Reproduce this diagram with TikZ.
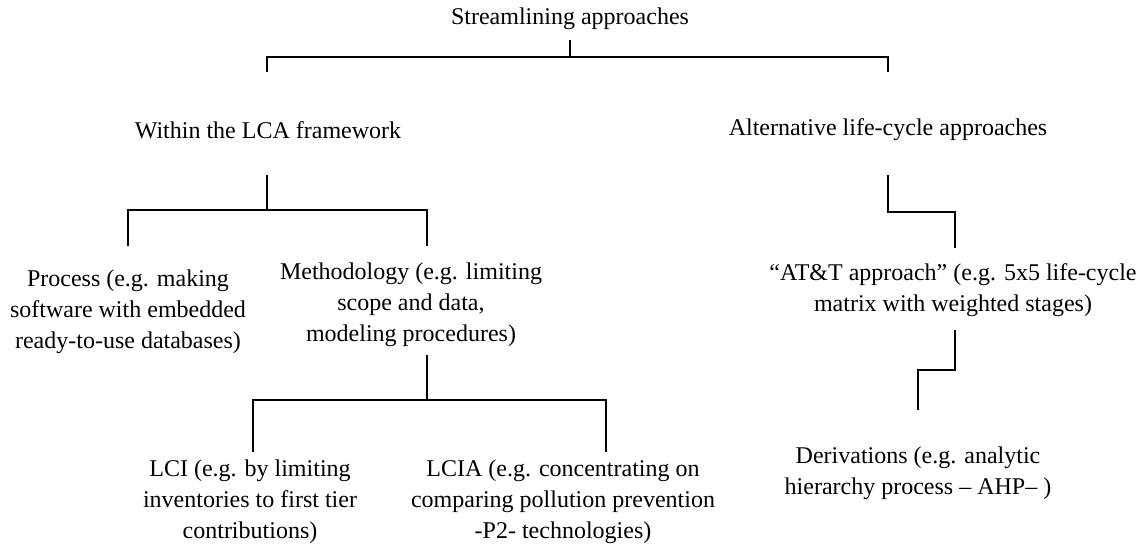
\documentclass[tikz,border=0pt]{standalone}
\usepackage{fontspec}
\setmainfont{Liberation Serif}
\begin{document}
\begin{tikzpicture}[x=0.5pt,y=-0.5pt,
  lbl/.style={align=center, inner sep=0pt, font=\fontsize{12}{15.6}\selectfont},
  conn/.style={line width=0.6pt}]
\useasboundingbox (0,0) rectangle (1140,547);
% nodes
\node[lbl] (root) at (570,19) {Streamlining approaches};
\node[lbl] (within) at (268,130) {Within the LCA framework};
\node[lbl] (alt) at (888,130) {Alternative life-cycle approaches};
\node[lbl] (proc) at (128,312) {Process (e.g. making\\software with embedded\\ready-to-use databases)};
\node[lbl] (meth) at (411,305) {Methodology (e.g. limiting\\scope and data,\\modeling procedures)};
\node[lbl] (lci) at (250,502) {LCI (e.g. by limiting\\inventories to first tier\\contributions)};
\node[lbl] (lcia) at (563,502) {LCIA (e.g. concentrating on\\comparing pollution prevention\\-P2- technologies)};
\node[lbl] (att) at (953,290) {“AT\&T approach” (e.g. 5x5 life-cycle\\matrix with weighted stages)};
\node[lbl] (der) at (918,473) {Derivations (e.g. analytic\\hierarchy process – AHP– )};
% connector points
\coordinate (rootT) at (570,40);
\coordinate (rootJ) at (570,57);
\coordinate (withinT) at (267,72);
\coordinate (altT) at (888,72);
\coordinate (withinB) at (267,175);
\coordinate (withinJ) at (267,210);
\coordinate (procT) at (128,246);
\coordinate (methT) at (427,246);
\coordinate (methB) at (427,355);
\coordinate (methJ) at (427,400);
\coordinate (lciT) at (253,452);
\coordinate (lciaT) at (606,452);
\coordinate (altB) at (888,175);
\coordinate (altJ) at (921,212);
\coordinate (attT) at (955,248);
\coordinate (attB) at (955,330);
\coordinate (attJ) at (936,370);
\coordinate (derT) at (918,410);
% connectors
\draw[conn] (rootT) -- (rootJ);
\draw[conn] (withinT) |- (rootJ) -| (altT);
\draw[conn] (withinB) -- (withinJ);
\draw[conn] (procT) |- (withinJ) -| (methT);
\draw[conn] (methB) -- (methJ);
\draw[conn] (lciT) |- (methJ) -| (lciaT);
\draw[conn] (altB) |- (altJ) -| (attT);
\draw[conn] (attB) |- (attJ) -| (derT);
\end{tikzpicture}
\end{document}
